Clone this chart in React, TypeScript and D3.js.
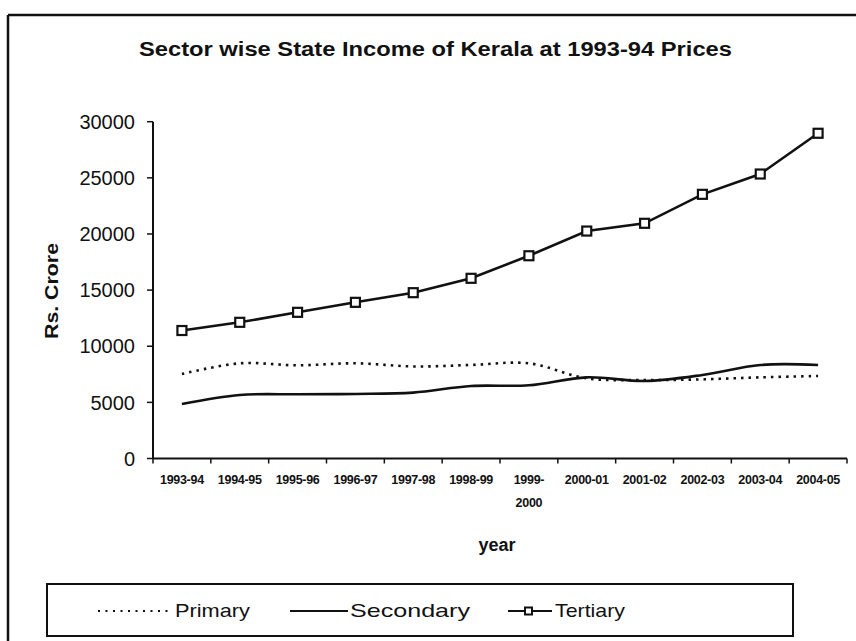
import React from "react";
import * as d3 from "d3";

const years = [
  "1993-94", "1994-95", "1995-96", "1996-97", "1997-98", "1998-99",
  "1999-2000", "2000-01", "2001-02", "2002-03", "2003-04", "2004-05",
];
const primary = [7530, 8480, 8300, 8480, 8200, 8330, 8480, 7140, 6990, 7050, 7230, 7350];
const secondary = [4850, 5660, 5720, 5750, 5870, 6460, 6520, 7230, 6900, 7440, 8330, 8330];
const tertiary = [11400, 12130, 13020, 13910, 14770, 16050, 18060, 20260, 20950, 23530, 25340, 28970];
const yTicks = [0, 5000, 10000, 15000, 20000, 25000, 30000];

const W = 856;
const H = 641;
const font = "'Liberation Sans', Arial, sans-serif";

export default function App() {
  const x = d3.scaleBand<string>().domain(years).range([153, 847]);
  const y = d3.scaleLinear().domain([0, 30000]).range([458.5, 121.7]);
  const cx = (i: number) => (x(years[i]) as number) + x.bandwidth() / 2;

  const smooth = d3
    .line<number>()
    .x((_, i) => cx(i))
    .y((d) => y(d))
    .curve(d3.curveCatmullRom.alpha(0.5));
  const straight = d3
    .line<number>()
    .x((_, i) => cx(i))
    .y((d) => y(d));

  // band boundaries for category ticks
  const xTickPos = [...years.map((d) => x(d) as number), 847];

  return (
    <div>
      <style>{"body{margin:0}"}</style>
      <svg width={W} height={H} style={{ display: "block", background: "#fff" }}>
        {/* outer frame */}
        <line x1={8} y1={15} x2={856} y2={15} stroke="#111" strokeWidth={2.5} />
        <line x1={8} y1={15} x2={8} y2={641} stroke="#111" strokeWidth={2.5} />

        <text x={139} y={56} textLength={593} lengthAdjust="spacingAndGlyphs" fontFamily={font} fontWeight="bold" fontSize={20} fill="#111">
          Sector wise State Income of Kerala at 1993-94 Prices
        </text>

        {/* y axis */}
        <line x1={153} y1={y(30000)} x2={153} y2={y(0)} stroke="#111" strokeWidth={2} />
        {yTicks.map((t) => (
          <g key={t}>
            <line x1={147} x2={153} y1={y(t)} y2={y(t)} stroke="#111" strokeWidth={1.5} />
            <text x={135} y={y(t)} dy="0.36em" textAnchor="end" fontFamily={font} fontSize={20} fill="#111">
              {t}
            </text>
          </g>
        ))}
        <text
          transform={`translate(58,291) rotate(-90)`}
          textAnchor="middle"
          textLength={96}
          lengthAdjust="spacingAndGlyphs"
          fontFamily={font}
          fontWeight="bold"
          fontSize={18}
          fill="#111"
        >
          Rs. Crore
        </text>

        {/* x axis */}
        <line x1={153} y1={y(0)} x2={847} y2={y(0)} stroke="#111" strokeWidth={2} />
        {xTickPos.map((p, i) => (
          <line key={i} x1={p} x2={p} y1={y(0)} y2={y(0) + 5} stroke="#111" strokeWidth={1.5} />
        ))}
        {years.map((d, i) => {
          const parts = d === "1999-2000" ? ["1999-", "2000"] : [d];
          return (
            <text key={d} x={cx(i)} y={484} textAnchor="middle" fontFamily={font} fontWeight="bold" fontSize={12.5} letterSpacing={-0.3} fill="#111">
              {parts.map((p, j) => (
                <tspan key={j} x={cx(i)} dy={j === 0 ? 0 : 23}>
                  {p}
                </tspan>
              ))}
            </text>
          );
        })}
        <text x={497} y={551} textAnchor="middle" fontFamily={font} fontWeight="bold" fontSize={18} fill="#111">
          year
        </text>

        {/* series */}
        <path d={smooth(primary) || ""} fill="none" stroke="#111" strokeWidth={2.6} strokeDasharray="2.5,5" />
        <path d={smooth(secondary) || ""} fill="none" stroke="#111" strokeWidth={2.6} />
        <path d={straight(tertiary) || ""} fill="none" stroke="#111" strokeWidth={2.6} />
        {tertiary.map((v, i) => (
          <rect key={i} x={cx(i) - 4.5} y={y(v) - 4.5} width={9} height={9} fill="#fff" stroke="#111" strokeWidth={2.2} />
        ))}

        {/* legend */}
        <rect x={47} y={584} width={746} height={52} fill="none" stroke="#111" strokeWidth={2} />
        <line x1={98} x2={172} y1={611} y2={611} stroke="#111" strokeWidth={2} strokeDasharray="2,5.5" />
        <text x={175} y={617} textLength={75} lengthAdjust="spacingAndGlyphs" fontFamily={font} fontSize={19} fill="#111">Primary</text>
        <line x1={290} x2={348} y1={611} y2={611} stroke="#111" strokeWidth={2} />
        <text x={350} y={617} textLength={120} lengthAdjust="spacingAndGlyphs" fontFamily={font} fontSize={19} fill="#111">Secondary</text>
        <line x1={508} x2={552} y1={611} y2={611} stroke="#111" strokeWidth={2.2} />
        <rect x={525} y={607.5} width={7} height={7} fill="#fff" stroke="#111" strokeWidth={2} />
        <text x={555} y={617} textLength={70} lengthAdjust="spacingAndGlyphs" fontFamily={font} fontSize={19} fill="#111">Tertiary</text>
      </svg>
    </div>
  );
}
